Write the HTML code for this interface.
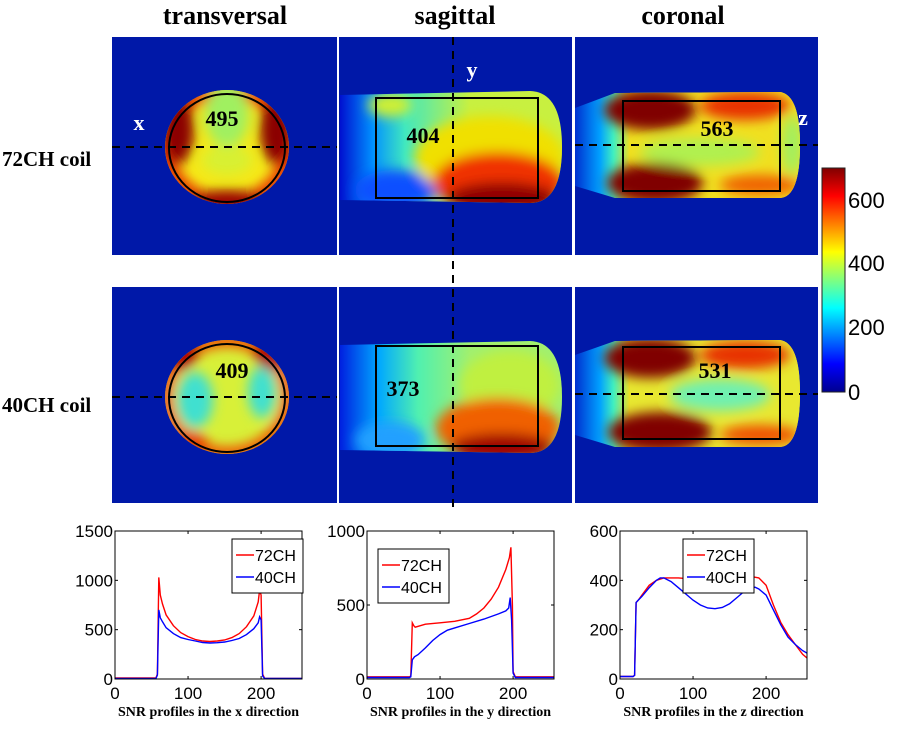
<!DOCTYPE html>
<html><head><meta charset="utf-8"><style>
body{margin:0;background:#fff;width:902px;height:730px;overflow:hidden}
svg{display:block}
.t{font-family:"Liberation Serif",serif;font-weight:bold}
.s{font-family:"Liberation Sans",sans-serif}
</style></head><body>
<svg id="fig" width="902" height="730" viewBox="0 0 902 730">
<defs>
<filter id="bl" x="-50%" y="-50%" width="200%" height="200%"><feGaussianBlur stdDeviation="6"/></filter>
<clipPath id="ct1"><ellipse cx="227" cy="147" rx="62" ry="57"/></clipPath>
<clipPath id="ct2"><ellipse cx="227" cy="397" rx="62" ry="57"/></clipPath>
<clipPath id="cs1"><path d="M340,95 L530,91 Q562,92 562,147 Q562,203 530,203 L340,200 Z"/></clipPath>
<clipPath id="cs2"><path d="M340,345 L530,341 Q562,342 562,397 Q562,453 530,453 L340,450 Z"/></clipPath>
<clipPath id="cc1"><path d="M575,108 L615,93 L780,92 Q800,95 800,145 Q800,197 780,198 L615,198 L575,186 Z"/></clipPath>
<clipPath id="cc2"><path d="M575,355 L615,341 L780,340 Q800,343 800,393 Q800,446 780,447 L615,447 L575,435 Z"/></clipPath>
<linearGradient id="gs1" x1="340" x2="470" y1="0" y2="0" gradientUnits="userSpaceOnUse"><stop offset="0" stop-color="#0010d0"/><stop offset="0.25" stop-color="#0090ff"/><stop offset="0.5" stop-color="#40e8c0"/><stop offset="1" stop-color="#c8f040"/></linearGradient>
<linearGradient id="gs2" x1="340" x2="470" y1="0" y2="0" gradientUnits="userSpaceOnUse"><stop offset="0" stop-color="#0020e0"/><stop offset="0.3" stop-color="#00a8ff"/><stop offset="0.6" stop-color="#50f0b0"/><stop offset="1" stop-color="#a0f070"/></linearGradient>
<linearGradient id="gc" x1="575" x2="630" y1="0" y2="0" gradientUnits="userSpaceOnUse"><stop offset="0" stop-color="#0030d0"/><stop offset="0.45" stop-color="#00a0ff"/><stop offset="0.7" stop-color="#40f0c0"/><stop offset="1" stop-color="#f0e020"/></linearGradient>
<linearGradient id="cb" x1="0" y1="392" x2="0" y2="168" gradientUnits="userSpaceOnUse"><stop offset="0" stop-color="#00008f"/><stop offset="0.125" stop-color="#0000ff"/><stop offset="0.375" stop-color="#00ffff"/><stop offset="0.625" stop-color="#ffff00"/><stop offset="0.875" stop-color="#ff0000"/><stop offset="1" stop-color="#800000"/></linearGradient>
</defs>

<text class="t" x="225" y="24" font-size="26" text-anchor="middle">transversal</text>
<text class="t" x="455" y="24" font-size="26" text-anchor="middle">sagittal</text>
<text class="t" x="683" y="24" font-size="26" text-anchor="middle">coronal</text>
<text class="t" x="2" y="166" font-size="21">72CH coil</text>
<text class="t" x="2" y="412" font-size="21">40CH coil</text>

<g fill="#0018a8">
<rect x="112" y="37" width="225" height="218"/><rect x="339" y="37" width="233" height="218"/><rect x="575" y="37" width="243" height="218"/>
<rect x="112" y="287" width="225" height="216"/><rect x="339" y="287" width="233" height="216"/><rect x="575" y="287" width="243" height="216"/>
</g>

<g clip-path="url(#ct1)">
<rect x="160" y="85" width="140" height="125" fill="#f5e818"/>
<g filter="url(#bl)">
<ellipse cx="227" cy="147" rx="62" ry="57" fill="none" stroke="#e83000" stroke-width="16"/>
<ellipse cx="227" cy="115" rx="22" ry="32" fill="#a0f060"/>
<ellipse cx="227" cy="160" rx="25" ry="15" fill="#d8f030"/>
<ellipse cx="178" cy="130" rx="16" ry="34" fill="#8b0000"/>
<ellipse cx="276" cy="130" rx="16" ry="34" fill="#8b0000"/>
<ellipse cx="227" cy="202" rx="38" ry="12" fill="#9a0000"/>
</g></g>
<ellipse cx="227" cy="148" rx="58" ry="54" fill="none" stroke="#000" stroke-width="2"/>
<g clip-path="url(#ct2)">
<rect x="160" y="335" width="140" height="125" fill="#d8f038"/>
<g filter="url(#bl)">
<ellipse cx="227" cy="397" rx="62" ry="57" fill="none" stroke="#f05000" stroke-width="14"/>
<ellipse cx="195" cy="400" rx="18" ry="28" fill="#40e0d0"/>
<ellipse cx="262" cy="392" rx="14" ry="26" fill="#40e0d0"/>
<ellipse cx="180" cy="350" rx="18" ry="20" fill="#b00000"/>
<ellipse cx="272" cy="350" rx="18" ry="20" fill="#b00000"/>
<ellipse cx="190" cy="445" rx="18" ry="14" fill="#e84000"/>
</g></g>
<ellipse cx="227" cy="398" rx="58" ry="54" fill="none" stroke="#000" stroke-width="2"/>

<g clip-path="url(#cs1)">
<rect x="340" y="85" width="230" height="125" fill="url(#gs1)"/>
<g filter="url(#bl)">
<ellipse cx="390" cy="105" rx="22" ry="12" fill="#d0f030"/>
<ellipse cx="395" cy="190" rx="40" ry="20" fill="#1050ff"/>
<ellipse cx="490" cy="158" rx="75" ry="42" fill="#f0e000"/>
<ellipse cx="498" cy="182" rx="65" ry="30" fill="#f03000"/>
<ellipse cx="502" cy="198" rx="55" ry="16" fill="#900000"/>
</g></g>
<g clip-path="url(#cs2)">
<rect x="340" y="335" width="230" height="125" fill="url(#gs2)"/>
<g filter="url(#bl)">
<ellipse cx="390" cy="440" rx="35" ry="18" fill="#20a0ff"/>
<ellipse cx="510" cy="385" rx="50" ry="35" fill="#c0f040"/>
<ellipse cx="498" cy="428" rx="62" ry="30" fill="#f06000"/>
<ellipse cx="502" cy="447" rx="52" ry="14" fill="#a00000"/>
</g></g>

<g clip-path="url(#cc1)">
<rect x="575" y="85" width="230" height="120" fill="url(#gc)"/>
<rect x="630" y="85" width="175" height="120" fill="#f0e020"/>
<g filter="url(#bl)">
<ellipse cx="700" cy="152" rx="60" ry="14" fill="#b0f050"/>
<ellipse cx="650" cy="110" rx="46" ry="20" fill="#800000"/>
<ellipse cx="655" cy="183" rx="48" ry="20" fill="#800000"/>
<ellipse cx="745" cy="106" rx="45" ry="14" fill="#e83000"/>
<ellipse cx="760" cy="185" rx="40" ry="10" fill="#f06000"/>
<ellipse cx="792" cy="145" rx="10" ry="30" fill="#a0f060"/>
</g></g>
<g clip-path="url(#cc2)">
<rect x="575" y="335" width="230" height="120" fill="url(#gc)"/>
<rect x="630" y="335" width="175" height="120" fill="#e8e830"/>
<g filter="url(#bl)">
<ellipse cx="720" cy="395" rx="50" ry="16" fill="#70f0b0"/>
<ellipse cx="650" cy="358" rx="46" ry="20" fill="#800000"/>
<ellipse cx="660" cy="432" rx="52" ry="20" fill="#800000"/>
<ellipse cx="745" cy="355" rx="45" ry="14" fill="#e83000"/>
<ellipse cx="760" cy="435" rx="40" ry="10" fill="#f05000"/>
</g></g>

<g fill="none" stroke="#000" stroke-width="2">
<rect x="376" y="98" width="162" height="100"/><rect x="376" y="346" width="162" height="100"/>
<rect x="623" y="101" width="157" height="90"/><rect x="623" y="347" width="157" height="92"/>
</g>
<g stroke="#000" stroke-width="2" stroke-dasharray="8,6">
<line x1="112" y1="147" x2="337" y2="147"/><line x1="112" y1="397" x2="337" y2="397"/>
<line x1="453" y1="37" x2="453" y2="510"/>
<line x1="575" y1="145" x2="818" y2="145"/><line x1="575" y1="394" x2="818" y2="394"/>
</g>
<g class="t" font-size="22">
<text x="222" y="126" text-anchor="middle">495</text><text x="423" y="143" text-anchor="middle">404</text><text x="717" y="136" text-anchor="middle">563</text>
<text x="232" y="378" text-anchor="middle">409</text><text x="403" y="396" text-anchor="middle">373</text><text x="715" y="378" text-anchor="middle">531</text>
</g>
<g class="t" font-size="22" fill="#fff">
<text x="139" y="130" text-anchor="middle">x</text><text x="472" y="77" text-anchor="middle">y</text><text x="803" y="125" text-anchor="middle">z</text>
</g>

<rect x="822" y="168" width="23" height="224" fill="url(#cb)" stroke="#222" stroke-width="1"/>
<g class="s" font-size="22">
<text x="848" y="400">0</text><text x="848" y="335">200</text><text x="848" y="271">400</text><text x="848" y="208">600</text>
</g>
<g id="plots"></g>
</svg>
<script>
const xTicks=[0,100,200];
const yTicks1=[0,500,1000,1500];
const yTicks2=[0,500,1000];
const yTicks3=[0,200,400,600];
const xs1=[0,56,58,60,62,65,70,80,90,100,110,120,130,140,150,160,170,180,190,196,198,200,202,205,256];
const y72_1=[10,10,50,1030,850,760,650,540,470,430,400,385,380,385,395,420,460,530,640,780,900,850,50,5,5];
const y40_1=[5,5,40,700,620,580,520,460,420,400,385,370,365,368,375,390,410,450,510,570,630,600,30,5,5];
const xs2=[0,58,60,62,64,66,80,100,120,140,150,160,170,180,190,195,197,199,200,203,256];
const y72_2=[15,15,20,380,360,350,370,380,390,410,440,480,540,620,740,820,890,500,50,15,15];
const xs2b=[0,58,60,62,65,70,80,90,100,110,120,140,160,180,190,194,196,198,200,203,256];
const y40_2=[10,10,15,130,150,165,210,260,300,330,345,375,405,440,460,480,550,400,40,10,10];
const xs3=[0,18,20,22,25,30,40,50,60,80,100,120,130,140,150,160,170,180,190,200,210,220,230,240,250,256];
const y72_3=[10,10,15,310,320,340,380,400,410,410,405,395,385,375,380,395,405,415,410,380,300,230,180,140,100,85];
const xs3b=[0,18,20,22,25,30,40,50,55,60,70,80,90,100,110,120,130,140,150,160,170,180,185,190,200,210,220,230,240,250,256];
const y40_3=[10,10,15,310,320,335,370,400,410,410,395,370,345,320,300,288,285,290,305,330,355,370,372,365,340,280,220,170,140,115,105];
const labels=["SNR profiles in the x direction","SNR profiles in the y direction","SNR profiles in the z direction"];
const NS="http://www.w3.org/2000/svg";
const root=document.getElementById('plots');
function mk(tag,attrs,parent){const e=document.createElementNS(NS,tag);for(const k in attrs)e.setAttribute(k,attrs[k]);parent.appendChild(e);return e;}
const T=531,B=679,W=187;
const plots=[
 {x0:115,ymax:1500,yt:yTicks1,s:[[xs1,y72_1,'#ff0000'],[xs1,y40_1,'#0000ff']],lg:[232,539],lab:labels[0],n:'x'},
 {x0:367,ymax:1000,yt:yTicks2,s:[[xs2,y72_2,'#ff0000'],[xs2b,y40_2,'#0000ff']],lg:[378,549],lab:labels[1],n:'y'},
 {x0:620,ymax:600,yt:yTicks3,s:[[xs3,y72_3,'#ff0000'],[xs3b,y40_3,'#0000ff']],lg:[683,539],lab:labels[2],n:'z'}
];
plots.forEach(p=>{
 const g=mk('g',{},root);
 
 
 const sx=v=>p.x0+v/256*W, sy=v=>B-v/p.ymax*(B-T);
 p.s.forEach(([xa,ya,c],i)=>{
  const pts=xa.map((x,j)=>sx(x).toFixed(1)+','+sy(ya[j]).toFixed(1)).join(' ');
  const pl=mk('polyline',{points:pts,fill:'none',stroke:c,'stroke-width':1.4},g);
  
  
 });
 mk('rect',{x:p.x0,y:T,width:W,height:B-T,fill:'none',stroke:'#000','stroke-width':1},g);
 xTicks.forEach(t=>{
  mk('line',{x1:sx(t),x2:sx(t),y1:B,y2:B-3,stroke:'#000'},g);
  mk('line',{x1:sx(t),x2:sx(t),y1:T,y2:T+3,stroke:'#000'},g);
  const tx=mk('text',{x:sx(t),y:B+20,'font-size':17,'text-anchor':'middle',class:'s'},g);tx.textContent=t;
  
  
 });
 p.yt.forEach(t=>{
  mk('line',{x1:p.x0,x2:p.x0+3,y1:sy(t),y2:sy(t),stroke:'#000'},g);
  mk('line',{x1:p.x0+W,x2:p.x0+W-3,y1:sy(t),y2:sy(t),stroke:'#000'},g);
  const tx=mk('text',{x:p.x0-2,y:sy(t)+6,'font-size':17,'text-anchor':'end',class:'s'},g);tx.textContent=t;
  
  
 });
 const lg=mk('g',{},g);
 
 
 const [lx,ly]=p.lg;
 mk('rect',{x:lx,y:ly,width:71,height:54,fill:'#fff',stroke:'#000'},lg);
 [['72CH','#ff0000'],['40CH','#0000ff']].forEach(([nm,c],i)=>{
  const yy=ly+16+i*22;
  mk('line',{x1:lx+4,x2:lx+22,y1:yy,y2:yy,stroke:c,'stroke-width':1.5},lg);
  const tx=mk('text',{x:lx+23,y:yy+6,'font-size':16,class:'s'},lg);tx.textContent=nm;
  
  
 });
 const xl=mk('text',{x:p.x0+W/2,y:716,'font-size':14,'text-anchor':'middle',class:'t'},g);xl.textContent=p.lab;
 
 
});
</script>
</body></html>
